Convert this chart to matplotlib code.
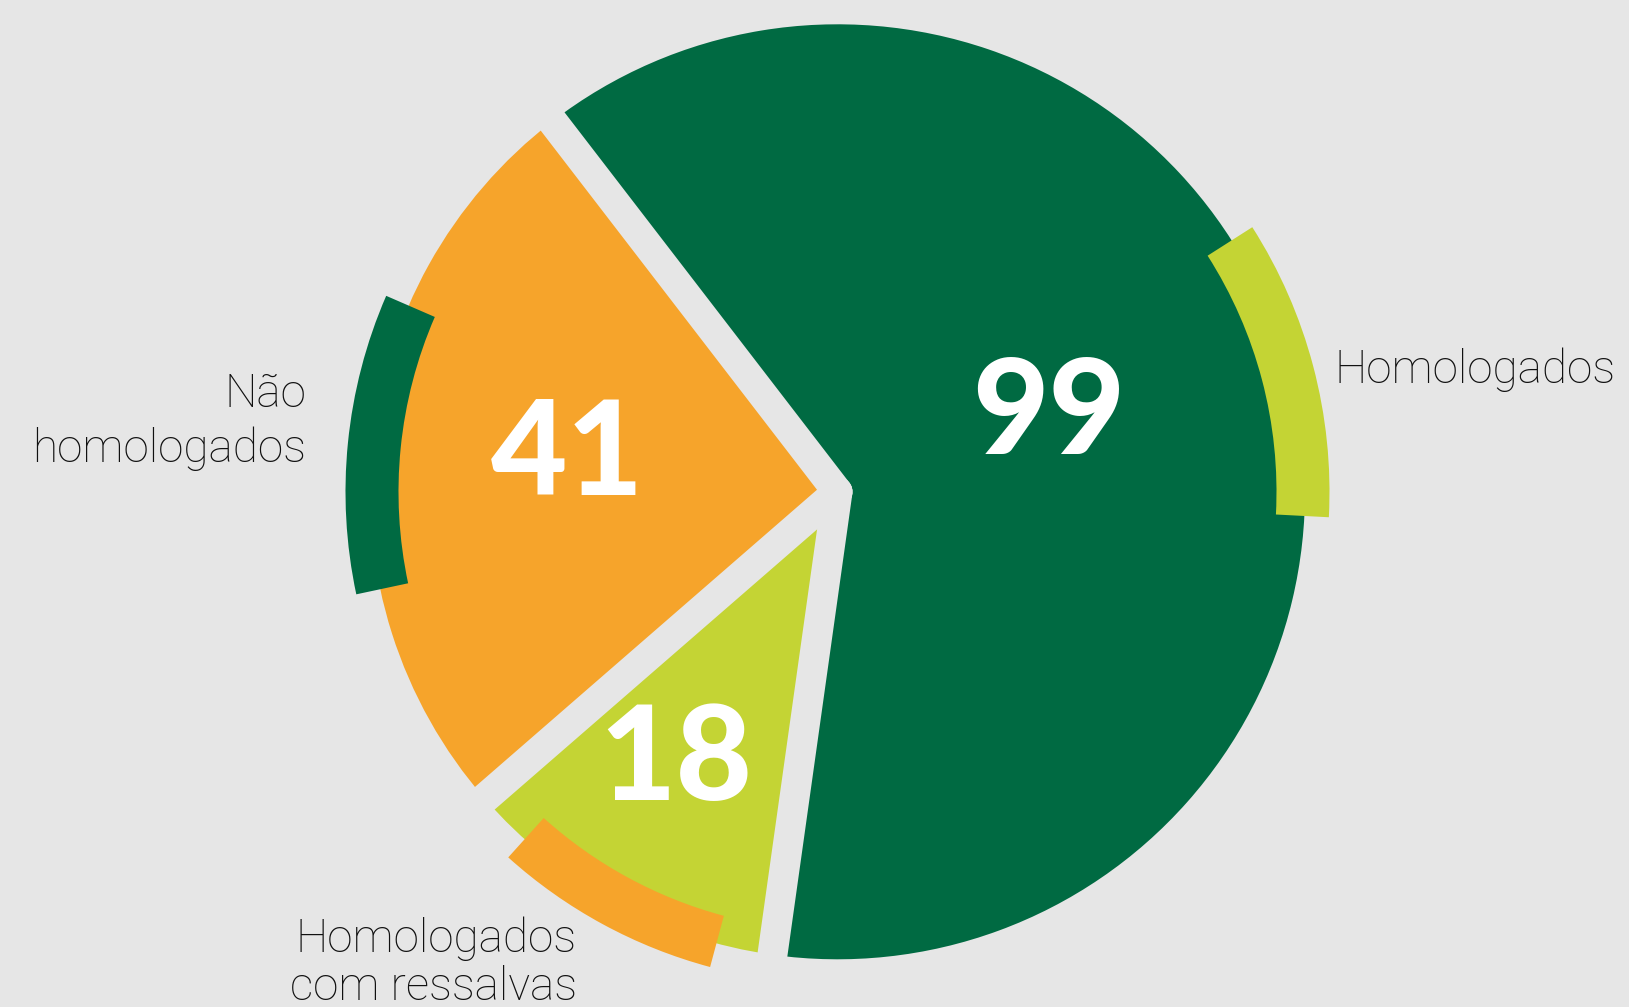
import numpy as np
import matplotlib.pyplot as plt
from matplotlib.patches import Wedge

# data
labels = ["Homologados", "Não homologados", "Homologados com ressalvas"]
values = [99, 41, 18]
colors = ["#006A42", "#F6A42B", "#C4D434"]
bg = "#E6E6E6"

# layout (pixels, y up)
cx, cy = 837.5, 515.2
R = 467.5
gap = 30            # px between slices
band_in, band_out = 439, 492
band_span = [35.5, 35.5, 27]

fig = plt.figure(figsize=(16.29, 10.07), dpi=100)
fig.patch.set_facecolor(bg)
ax = fig.add_axes([0, 0, 1, 1])
ax.set_facecolor(bg)

wedges, _ = ax.pie(values, colors=colors, startangle=-98, counterclock=True,
                   radius=R, center=(cx, cy),
                   wedgeprops=dict(linewidth=0))

ax.set_xlim(0, 1629)
ax.set_ylim(0, 1007)
ax.set_aspect('equal')
ax.axis('off')

# gaps between slices
for w in wedges:
    a = np.deg2rad(w.theta1)
    ax.plot([cx, cx + (R + 10) * np.cos(a)], [cy, cy + (R + 10) * np.sin(a)],
            color=bg, lw=gap * 0.72, solid_capstyle='round', zorder=3)

# decorative arcs, one per slice, in the previous slice colour
for i, w in enumerate(wedges):
    mid = (w.theta1 + w.theta2) / 2
    band = Wedge((cx, cy), band_out, mid - band_span[i] / 2, mid + band_span[i] / 2,
                 width=band_out - band_in, facecolor=colors[i - 1], lw=0, zorder=4)
    ax.add_patch(band)

# numbers (baseline positions)
num_pos = [(1049, 553), (567, 512.4), (676, 207)]
for v, (x, y) in zip(values, num_pos):
    ax.text(x, y, str(v), ha='center', va='baseline', color='white',
            fontsize=95, fontweight='black', family=['Lato', 'DejaVu Sans'], zorder=5)

# category labels
lab_kw = dict(fontsize=33, fontweight='light', color='#111111',
              family=['Roboto', 'Lato', 'DejaVu Sans'], va='baseline', zorder=5)
ax.text(1335, 623.7, "Homologados", ha='left', **lab_kw)
ax.text(306, 600.3, "Não", ha='right', **lab_kw)
ax.text(306, 545.3, "homologados", ha='right', **lab_kw)
ax.text(576.7, 55.3, "Homologados", ha='right', **lab_kw)
ax.text(576.7, 7, "com ressalvas", ha='right', **lab_kw)

fig.savefig("out.png", dpi=100, facecolor=bg)
